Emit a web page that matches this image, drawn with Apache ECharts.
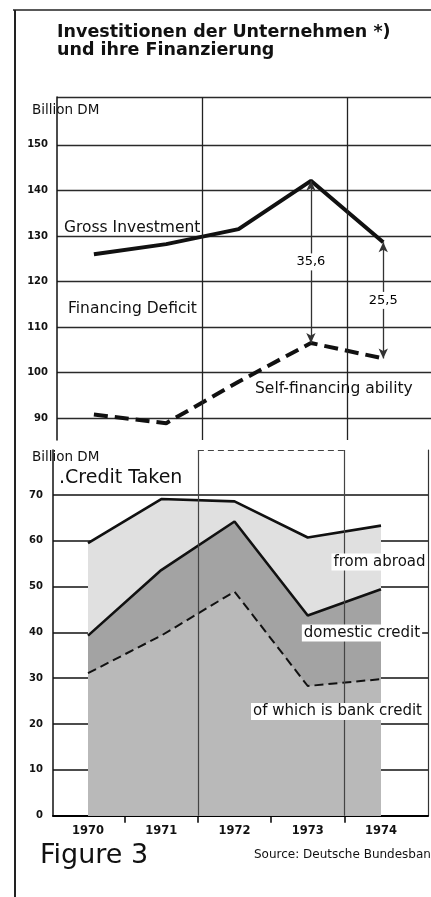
<!DOCTYPE html>
<html><head><meta charset="utf-8">
<script src="https://cdn.jsdelivr.net/npm/echarts@6/dist/echarts.min.js"></script>
<style>html,body{margin:0;padding:0;background:#fff}#c{width:431px;height:897px}</style>
</head><body><div id="c"></div>
<script>
// ---- data ----
const years = ['1970', '1971', '1972', '1973', '1974'];
const grossInvestment = [126.0, 128.2, 131.5, 142.1, 128.6];
const selfFinancing = [90.8, 88.9, 98.0, 106.5, 103.1];
const arrowYears = ['1973', '1974'];
const creditTotal = [59.5, 69.1, 68.6, 60.7, 63.3];
const domesticCredit = [39.3, 53.6, 64.2, 43.7, 49.4];
const bankCredit = [31.1, 39.3, 48.9, 28.3, 29.8];
const topTicks = [90, 100, 110, 120, 130, 140, 150];
const bottomTicks = [0, 10, 20, 30, 40, 50, 60, 70];
const dividerAfter = ['1971', '1973'];

// ---- helpers ----
const FONT = 'DejaVu Sans';
const pairs = arr => arr.map((v, i) => [i, v]);
const dividers = dividerAfter.map(y => years.indexOf(y) + 0.5);
const bandTicks = years.slice(1).map((y, i) => i + 0.5);
const fmt = v => v.toFixed(1).replace('.', ',');
const TOP_MAX = 160.5, BOT_MAX = 79.8;

function txt(x, y, text, size, opts) {
  opts = opts || {};
  return {
    type: 'text', x: x, y: y, z: 100,
    style: Object.assign({
      text: text,
      font: (opts.weight || 'normal') + ' ' + size + 'px "' + FONT + '"',
      fill: '#111',
      textAlign: opts.align || 'left',
      textVerticalAlign: 'middle'
    }, opts.style || {})
  };
}

const chart = echarts.init(document.getElementById('c'));
const option = {
  animation: false,
  backgroundColor: '#fff',
  grid: [
    { left: 57, right: 0, top: 97, bottom: 457 },
    { left: 53, right: 3, top: 450, bottom: 81.3 }
  ],
  xAxis: [
    { gridIndex: 0, type: 'value', min: -0.51, max: 4.66,
      axisLine: { show: false, onZero: false }, axisTick: { show: false }, axisLabel: { show: false }, splitLine: { show: false } },
    { gridIndex: 1, type: 'value', min: -0.478, max: 4.642,
      axisLine: { show: true, onZero: false, lineStyle: { color: '#000', width: 2 } },
      axisTick: { show: true, customValues: bandTicks, length: 7, lineStyle: { color: '#000', width: 1.5 } },
      axisLabel: { customValues: years.map((y, i) => i), formatter: v => years[Math.round(v)],
        fontFamily: FONT, fontWeight: 'bold', fontSize: 11.5, color: '#111', margin: 9 },
      splitLine: { show: false } }
  ],
  yAxis: [
    { gridIndex: 0, type: 'value', min: 85.2, max: TOP_MAX,
      axisLine: { show: true, onZero: false, lineStyle: { color: '#111', width: 1.5 } },
      axisTick: { show: false, customValues: topTicks.concat([TOP_MAX]) },
      axisLabel: { customValues: topTicks, fontFamily: FONT, fontWeight: 'bold', fontSize: 10, color: '#111', margin: 9 },
      splitLine: { show: true, lineStyle: { color: '#2a2a2a', width: 1.3 } } },
    { gridIndex: 1, type: 'value', min: 0, max: BOT_MAX,
      axisLine: { show: true, onZero: false, lineStyle: { color: '#111', width: 1.5 } },
      axisTick: { show: false, customValues: bottomTicks },
      axisLabel: { customValues: bottomTicks, fontFamily: FONT, fontWeight: 'bold', fontSize: 10, color: '#111', margin: 10 },
      splitLine: { show: true, lineStyle: { color: '#111', width: 1.5 } } },
    { gridIndex: 1, type: 'value', min: 0, max: BOT_MAX, position: 'right',
      axisLine: { show: true, onZero: false, lineStyle: { color: '#333', width: 1.2 } },
      axisTick: { show: false }, axisLabel: { show: false }, splitLine: { show: false } }
  ],
  series: [
    // top chart dividers
    { type: 'line', xAxisIndex: 0, yAxisIndex: 0, data: [], z: 1,
      markLine: { silent: true, symbol: 'none', label: { show: false },
        lineStyle: { type: 'solid', color: '#222', width: 1.3 },
        data: dividers.map(d => ({ xAxis: d })) } },
    { name: 'Gross Investment', type: 'line', xAxisIndex: 0, yAxisIndex: 0,
      data: pairs(grossInvestment), symbol: 'none', z: 3,
      lineStyle: { color: '#111', width: 4 },
      markLine: { silent: true, symbol: ['arrow', 'arrow'], symbolSize: [7, 10],
        label: { show: false },
        lineStyle: { type: 'solid', color: '#333', width: 1.3 },
        data: arrowYears.map(y => { const i = years.indexOf(y);
          return [{ coord: [i, grossInvestment[i]] }, { coord: [i, selfFinancing[i]] }]; }) } },
    { name: 'Self-financing ability', type: 'line', xAxisIndex: 0, yAxisIndex: 0,
      data: pairs(selfFinancing), symbol: 'none', z: 3,
      lineStyle: { color: '#111', width: 4, type: [14, 7] } },
    { name: 'Financing Deficit', type: 'scatter', xAxisIndex: 0, yAxisIndex: 0, z: 5,
      symbolSize: 0, itemStyle: { opacity: 1 },
      data: arrowYears.map(y => { const i = years.indexOf(y);
        return { value: [i, (grossInvestment[i] + selfFinancing[i]) / 2],
                 diff: grossInvestment[i] - selfFinancing[i] }; }),
      label: { show: true, position: 'inside', opacity: 1,
        formatter: p => fmt(p.data.diff),
        fontFamily: FONT, fontSize: 13, color: '#000',
        backgroundColor: '#fff', padding: [2, 1] } },

    // bottom chart
    { type: 'line', xAxisIndex: 1, yAxisIndex: 1, data: [], z: 1,
      markLine: { silent: true, symbol: 'none', label: { show: false },
        lineStyle: { type: 'solid', color: '#444', width: 1.2 },
        data: dividers.map(d => ({ xAxis: d })).concat([
          [{ coord: [dividers[0], BOT_MAX] }, { coord: [dividers[1], BOT_MAX], lineStyle: { type: [6, 4] } }]
        ]) } },
    { name: 'from abroad', type: 'line', xAxisIndex: 1, yAxisIndex: 1,
      data: pairs(creditTotal), symbol: 'none', z: 2,
      lineStyle: { color: '#111', width: 2.6 },
      areaStyle: { color: '#e0e0e0', opacity: 1 } },
    { name: 'domestic credit', type: 'line', xAxisIndex: 1, yAxisIndex: 1,
      data: pairs(domesticCredit), symbol: 'none', z: 3,
      lineStyle: { color: '#111', width: 2.6 },
      areaStyle: { color: '#a3a3a3', opacity: 1 } },
    { name: 'of which is bank credit', type: 'line', xAxisIndex: 1, yAxisIndex: 1,
      data: pairs(bankCredit), symbol: 'none', z: 4,
      lineStyle: { color: '#111', width: 2, type: [9, 5] },
      areaStyle: { color: '#b9b9b9', opacity: 1 } }
  ],
  graphic: [
    { type: 'line', z: 100, shape: { x1: 13, y1: 10, x2: 431, y2: 10 }, style: { stroke: '#222', lineWidth: 1.5 } },
    { type: 'line', z: 100, shape: { x1: 15, y1: 10, x2: 15, y2: 897 }, style: { stroke: '#222', lineWidth: 2 } },
    txt(57, 32, 'Investitionen der Unternehmen *)', 17.5, { weight: 'bold' }),
    txt(57, 50, 'und ihre Finanzierung', 17.5, { weight: 'bold' }),
    txt(32, 110.5, 'Billion DM', 13.5),
    txt(64, 227.5, 'Gross Investment', 15.5),
    txt(66, 309, 'Financing Deficit', 15.5, { style: { backgroundColor: '#fff', padding: [1, 2] } }),
    txt(255, 389, 'Self-financing ability', 15.5),
    txt(32, 457.5, 'Billion DM', 13.5),
    txt(59, 478, '.Credit Taken', 19),
    txt(379.5, 562, 'from abroad', 15, { align: 'center', style: { backgroundColor: '#fff', padding: [1, 2] } }),
    txt(362, 633, 'domestic credit', 15, { align: 'center', style: { backgroundColor: '#fff', padding: [1, 2] } }),
    txt(337.5, 711.5, 'of which is bank credit', 15, { align: 'center', style: { backgroundColor: '#fff', padding: [1, 2] } }),
    txt(40, 856, 'Figure 3', 27),
    txt(254, 855, 'Source: Deutsche Bundesbank', 12)
  ]
};
chart.setOption(option);
</script>
</body></html>
